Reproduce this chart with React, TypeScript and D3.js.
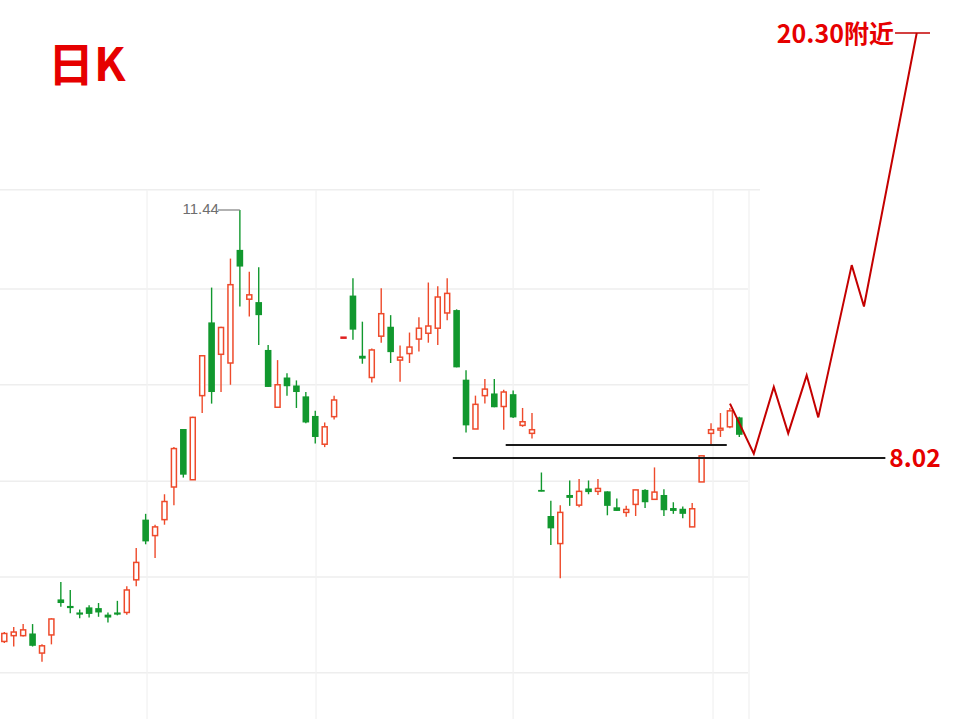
import React from "react";
import * as d3 from "d3";

// ---- Data (daily K-line, price units) ----
const opens = [5.49,5.57,5.57,5.60,5.33,5.58,6.07,5.98,5.89,5.96, 5.95,5.86,5.89,5.89,6.34,7.17,6.95,7.17,7.62,8.42, 7.72,8.88,9.89,9.45,9.33,10.89,10.21,10.17,9.51,8.72, 9.13,9.02,8.87,8.60,8.21,8.59,9.68,10.26,9.43,9.13, 9.70,9.83,9.37,9.46,9.66,9.74,9.81,10.02,10.06,9.10, 8.42,8.88,8.91,8.73,8.90,8.47,8.36,7.58,7.22,6.84, 7.51,7.37,7.60,7.56,7.56,7.34,7.27,7.38,7.58,7.45, 7.51,7.33,7.32,7.07,7.69,8.36,8.41,8.45,8.58];
const highs = [5.62,5.69,5.73,5.73,5.45,5.81,6.31,6.20,5.93,5.99, 6.02,5.89,6.05,6.25,6.78,7.25,7.10,7.52,8.17,8.42, 8.59,9.44,10.37,9.83,10.77,11.44,10.59,10.65,9.58,9.37, 9.19,9.09,8.93,8.67,8.51,8.88,9.68,10.50,9.90,9.53, 10.36,9.99,9.57,9.75,9.96,10.44,10.39,10.50,10.07,9.23, 8.88,9.11,9.11,8.96,8.95,8.71,8.64,7.82,7.43,7.37, 7.71,7.73,7.71,7.73,7.56,7.46,7.36,7.58,7.59,7.89, 7.59,7.41,7.35,7.40,8.05,8.50,8.64,8.71,8.59];
const lows = [5.47,5.42,5.56,5.42,5.21,5.45,5.97,5.88,5.81,5.82, 5.83,5.75,5.85,5.86,6.25,6.83,6.64,7.10,7.37,7.75, 7.72,8.64,8.77,8.93,9.03,10.11,9.97,9.58,9.00,8.72, 8.88,8.71,8.50,8.22,8.17,8.55,9.68,9.65,9.32,9.06, 9.61,9.33,9.07,9.33,9.49,9.61,9.58,9.92,9.27,8.37, 8.42,8.77,8.72,8.41,8.57,8.45,8.29,7.56,6.82,6.36, 7.36,7.34,7.52,7.51,7.23,7.29,7.21,7.22,7.33,7.45, 7.22,7.25,7.19,7.07,7.69,8.21,8.31,8.43,8.31];
const closes = [5.60,5.62,5.65,5.43,5.43,5.80,6.02,5.95,5.86,5.87, 5.89,5.82,5.86,6.20,6.58,6.87,7.07,7.42,8.15,7.79, 8.58,9.43,8.93,9.82,10.41,10.66,10.27,9.99,9.00,9.03, 9.01,8.93,8.51,8.31,8.45,8.82,9.68,9.79,9.39,9.51, 10.01,9.48,9.41,9.55,9.81,9.84,10.24,10.29,9.27,8.47, 8.76,8.97,8.72,8.93,8.58,8.52,8.41,7.56,7.05,7.27, 7.47,7.56,7.55,7.60,7.36,7.29,7.31,7.58,7.41,7.55, 7.30,7.29,7.25,7.32,8.05,8.41,8.43,8.67,8.34];

// projected path (bar index, price)
const projIdx = [77.01, 79.54, 81.66, 83.19, 85.15, 86.38, 89.93, 91.23, 96.83];
const projPrice = [8.77, 8.08, 9.00, 8.36, 9.16, 8.58, 10.68, 10.11, 13.88];

// support lines: price, start index, end index
const supportPrices = [8.20, 8.02];
const supportStart = [53.21, 47.6];
const supportEnd = [76.67, 93.5];

const targetPrice = 13.88;
const targetStart = 94.52;
const targetEnd = 98.24;

const gridPrices = [11.72, 10.35, 9.03, 7.70, 6.38, 5.06];
const gridIdx = [15.15, 33.08, 54.0, 75.21, 79.03];

const highLabel = "11.44";
const supportLabel = "8.02";
const targetLabel = "20.30附近";
const title = "日K";

const W = 965;
const H = 719;
const RED = "#ee4a2b";
const GREEN = "#11982e";
const PROJ = "#c40000";
const TXT_RED = "#e60000";

export default function App() {
  const x = d3.scaleLinear().domain([0, 78]).range([4.3, 739.3]);
  const y = d3.scaleLinear().domain([8.02, 11.44]).range([458, 210]);
  const n = opens.length;
  const maxIdx = highs.indexOf(d3.max(highs) as number);

  const line = d3
    .line<number>()
    .x((_, i) => x(projIdx[i]))
    .y((d) => y(d));

  const gridTop = y(gridPrices[0]);

  return (
    <svg
      width={W}
      height={H}
      style={{ position: "absolute", left: 0, top: 0, background: "#fff" }}
      fontFamily="'Noto Sans CJK SC', 'Noto Sans', sans-serif"
    >
      <rect x={0} y={0} width={W} height={H} fill="#fff" />
      {/* grid */}
      {gridPrices.map((p, i) => (
        <line
          key={"h" + i}
          x1={0}
          x2={i === 0 ? 760 : 748}
          y1={y(p)}
          y2={y(p)}
          stroke="#eeeeee"
          strokeWidth={1.5}
        />
      ))}
      {gridIdx.map((g, i) => (
        <line
          key={"v" + i}
          x1={x(g)}
          x2={x(g)}
          y1={gridTop}
          y2={H}
          stroke="#f2f2f2"
          strokeWidth={1.3}
        />
      ))}

      {/* candles */}
      {d3.range(n).map((i) => {
        const o = opens[i], c = closes[i], h = highs[i], l = lows[i];
        const cx = x(i);
        const up = c > o;
        const doji = c === o;
        const top = y(Math.max(o, c));
        const bot = y(Math.min(o, c));
        const bh = Math.max(bot - top, 1.8);
        if (doji) {
          return (
            <rect key={i} x={cx - 3.2} y={top - 1.2} width={6.4} height={2.5} fill="#e02020" />
          );
        }
        return (
          <g key={i}>
            <line
              x1={cx}
              x2={cx}
              y1={y(h)}
              y2={y(l)}
              stroke={up ? RED : GREEN}
              strokeWidth={1.4}
            />
            {up ? (
              <rect
                x={cx - 2.5}
                y={top}
                width={5}
                height={bh}
                fill="#fff"
                stroke={RED}
                strokeWidth={1.5}
              />
            ) : (
              <rect x={cx - 3.3} y={top} width={6.6} height={bh} fill={GREEN} />
            )}
          </g>
        );
      })}

      {/* high marker */}
      <line
        x1={x(maxIdx) - 22}
        x2={x(maxIdx)}
        y1={y(highs[maxIdx])}
        y2={y(highs[maxIdx])}
        stroke="#888"
        strokeWidth={1.3}
      />
      <text
        x={x(maxIdx) - 21}
        y={y(highs[maxIdx]) + 4}
        textAnchor="end"
        fontSize={15}
        fill="#6e6e6e"
        fontFamily="'Liberation Sans', Arial, sans-serif"
      >
        {highLabel}
      </text>

      {/* support lines */}
      {supportPrices.map((p, i) => (
        <line
          key={"s" + i}
          x1={x(supportStart[i])}
          x2={x(supportEnd[i])}
          y1={y(p)}
          y2={y(p)}
          stroke="#1a1a1a"
          strokeWidth={2}
        />
      ))}

      {/* projection */}
      <path d={line(projPrice) || ""} fill="none" stroke={PROJ} strokeWidth={2} strokeLinejoin="miter" />
      <line
        x1={x(targetStart)}
        x2={x(targetEnd)}
        y1={y(targetPrice)}
        y2={y(targetPrice)}
        stroke={PROJ}
        strokeWidth={1.6}
      />

      {/* labels */}
      <text
        x={x(targetStart) - 1}
        y={y(targetPrice) + 10}
        textAnchor="end"
        fontSize={25}
        fontWeight="bold"
        fill={TXT_RED}
      >
        {targetLabel}
      </text>
      <text
        x={x(supportEnd[1]) + 4}
        y={y(supportPrices[1]) + 9}
        fontSize={24.5}
        fontWeight="bold"
        fill={TXT_RED}
      >
        {supportLabel}
      </text>
      <text x={48} y={81} fontSize={46} fontWeight="bold" fill={TXT_RED}>
        {title}
      </text>
    </svg>
  );
}
